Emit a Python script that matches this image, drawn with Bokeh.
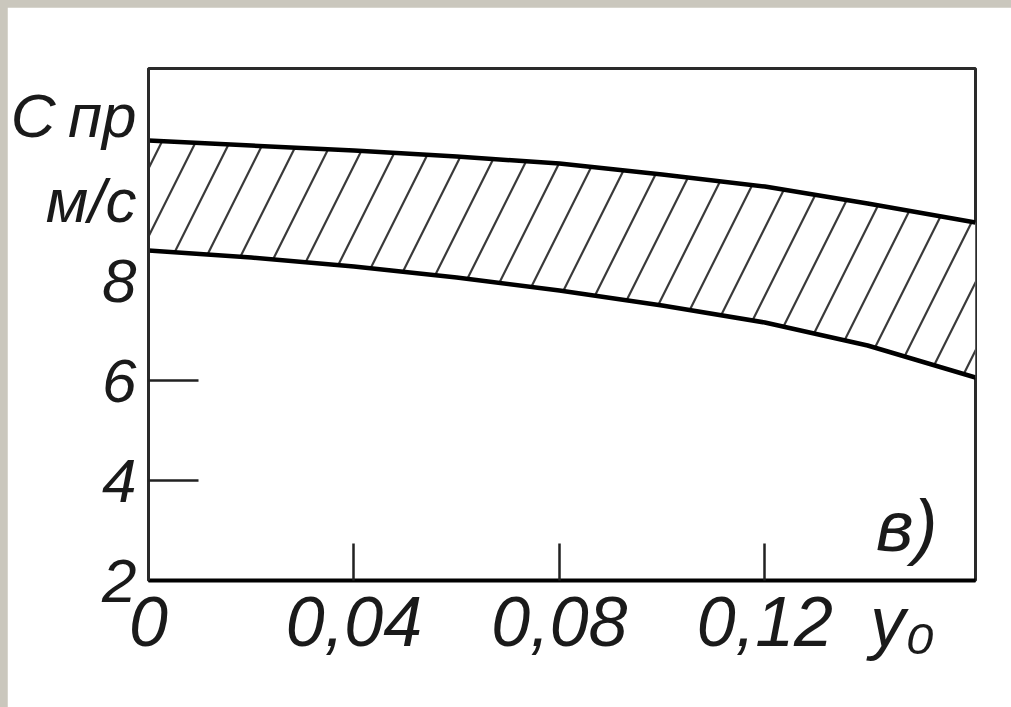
from bokeh.plotting import figure
from bokeh.models import FixedTicker, Label, Range1d
from bokeh.embed import file_html
from bokeh.resources import INLINE

# ---- data ----
y0_vals = [0.0, 0.02, 0.04, 0.06, 0.08, 0.10, 0.12, 0.14, 0.161]
c_upper = [10.8, 10.7, 10.6, 10.48, 10.34, 10.12, 9.88, 9.54, 9.16]
c_lower = [8.6, 8.46, 8.28, 8.06, 7.8, 7.5, 7.16, 6.7, 6.06]

x_ticks = [0.0, 0.04, 0.08, 0.12, 0.1468]
x_tick_labels = ["0", "0,04", "0,08", "0,12", "y₀"]
x_tick_marks = [0.04, 0.08, 0.12]
y_ticks = [2, 4, 6, 8, 9.6, 11.3]
y_tick_labels = ["2", "4", "6", "8", "м/с", "C\u2009пр"]
y_tick_marks = [4, 6]

FONT = "Liberation Sans"

p = figure(width=1004, height=700, output_backend="svg", toolbar_location=None,
           x_range=Range1d(0, 0.161), y_range=Range1d(2, 12.24))
p.min_border_left = 140
p.min_border_right = 36
p.min_border_top = 61
p.min_border_bottom = 127
p.background_fill_color = "white"
p.border_fill_color = "white"
p.grid.visible = False
p.outline_line_color = "#2a2a2a"
p.outline_line_width = 3

# hatched band
p.varea(x=y0_vals, y1=c_lower, y2=c_upper, fill_color="white", fill_alpha=1.0,
        hatch_pattern="/", hatch_color="#3a3a3a", hatch_weight=2.2, hatch_scale=68)
p.line(y0_vals, c_upper, line_color="black", line_width=4.5)
p.line(y0_vals, c_lower, line_color="black", line_width=4.5)

# x axis
xa = p.xaxis[0]
xa.ticker = FixedTicker(ticks=x_ticks, minor_ticks=x_tick_marks)
xa.major_label_overrides = {t: s for t, s in zip(x_ticks, x_tick_labels)}
xa.major_tick_in = 0
xa.major_tick_out = 0
xa.minor_tick_in = 37
xa.minor_tick_out = 0
xa.minor_tick_line_color = "#222"
xa.minor_tick_line_width = 2.5
xa.axis_line_color = "black"
xa.axis_line_width = 4
xa.major_label_text_font = FONT
xa.major_label_text_font_style = "italic"
xa.major_label_text_font_size = "70px"
xa.major_label_text_color = "#1a1a1a"
xa.major_label_standoff = 2

# y axis
ya = p.yaxis[0]
ya.ticker = FixedTicker(ticks=y_ticks, minor_ticks=y_tick_marks)
ya.major_label_overrides = {t: s for t, s in zip(y_ticks, y_tick_labels)}
ya.major_tick_in = 0
ya.major_tick_out = 0
ya.minor_tick_in = 50
ya.minor_tick_out = 0
ya.minor_tick_line_color = "#222"
ya.minor_tick_line_width = 2.5
ya.axis_line_color = "#2a2a2a"
ya.axis_line_width = 3
ya.major_label_text_font = FONT
ya.major_label_text_font_style = "italic"
ya.major_label_text_font_size = "62px"
ya.major_label_text_color = "#1a1a1a"
ya.major_label_standoff = 12
ya.major_label_orientation = "horizontal"

p.add_layout(Label(x=0.1476, y=3.1, text="в)", text_font=FONT, text_font_size="72px",
                   text_font_style="italic", text_color="#1a1a1a",
                   text_align="center", text_baseline="middle"))

html = file_html(p, INLINE)
html = html.replace("</head>",
                    "<style>html {background:#cac7bd; margin:0; padding:0;} "
                    "body {background:#cac7bd; margin:0; padding:7px 0 0 7px;}</style></head>", 1)
open("out.html", "w").write(html)
